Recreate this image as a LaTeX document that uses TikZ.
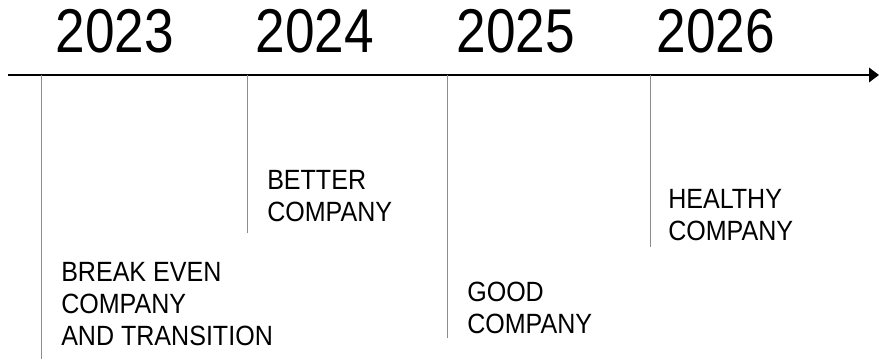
\documentclass[tikz,border=0pt]{standalone}
\usepackage{fontspec}
\setmainfont{Liberation Sans}
\usetikzlibrary{arrows.meta,positioning}

\tikzset{
  year/.style={font=\fontsize{44}{44}\selectfont, inner sep=0pt, anchor=base, xscale=0.86},
  milestone/.style={font=\fontsize{19.8}{22.5}\selectfont, align=left, inner sep=0pt, anchor=base west, xscale=0.9},
  tick/.style={black!45, line width=0.6pt},
  timeline/.style={line width=2pt, -{Triangle[length=7pt,width=10pt]}}
}

\begin{document}
\begin{tikzpicture}[x=0.025cm, y=-0.025cm]
\useasboundingbox (0,0) rectangle (879,361);
%\draw [help lines, step=50](0,0) grid (879,361);

% axis
\coordinate (axisstart) at (8,75);
\coordinate (axisend) at (879,75);
\draw [timeline] (axisstart) -- (axisend);

% years
\node [year] (y2023) at (115,53) {2023};
\node [year] (y2024) at (315,53) {2024};
\node [year] (y2025) at (516,53) {2025};
\node [year] (y2026) at (716,53) {2026};

% ticks
\coordinate (t2023) at (41,75);
\coordinate (b2023) at (41,359);
\coordinate (t2024) at (247,75);
\coordinate (b2024) at (247,233);
\coordinate (t2025) at (447,75);
\coordinate (b2025) at (447,338);
\coordinate (t2026) at (650,75);
\coordinate (b2026) at (650,247);
\draw [tick] (t2023) -- (b2023);
\draw [tick] (t2024) -- (b2024);
\draw [tick] (t2025) -- (b2025);
\draw [tick] (t2026) -- (b2026);

% milestones (anchored at the last line)
\node [milestone] (breakeven) at (61,345) {BREAK EVEN\\COMPANY\\AND TRANSITION};
\node [milestone] (better) at (267,221) {BETTER\\COMPANY};
\node [milestone] (good) at (467,333) {GOOD\\COMPANY};
\node [milestone] (healthy) at (668,240) {HEALTHY\\COMPANY};

\end{tikzpicture}
\end{document}
